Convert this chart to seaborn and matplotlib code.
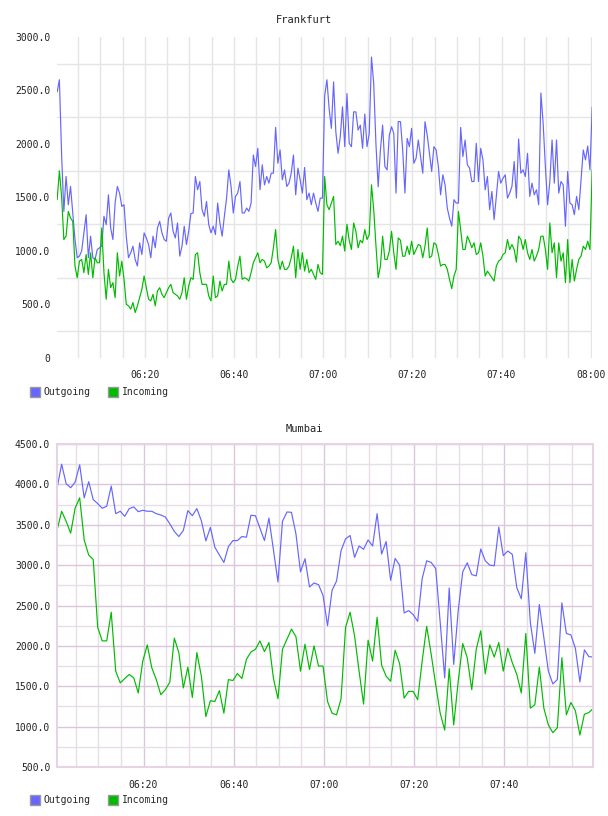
import matplotlib
matplotlib.use("Agg")
import matplotlib.dates as mdates
import matplotlib.pyplot as plt
import matplotlib.ticker as mticker
from matplotlib.patches import Patch
import numpy as np
import pandas as pd
import seaborn as sns

sns.set_style("white")
plt.rcParams["font.family"] = ["DejaVu Sans Mono"]
plt.rcParams["font.size"] = 7

# Frankfurt, one sample every 30 s from 06:00:20
frankfurt_out = [
    2486, 2600, 1900, 1370, 1696, 1432, 1603, 1355, 1107, 937,
    952, 1000, 1169, 1339, 937, 1138, 937, 921, 1014, 1030,
    1045, 1324, 1246, 1525, 1215, 1107, 1448, 1603, 1541, 1417,
    1432, 1138, 937, 983, 1045, 921, 859, 1076, 967, 1169,
    1122, 1060, 937, 1138, 1030, 1215, 1277, 1169, 1107, 1091,
    1308, 1355, 1184, 1122, 1262, 952, 1045, 1231, 1060, 1184,
    1350, 1355, 1696, 1572, 1649, 1386, 1324, 1463, 1246, 1169,
    1231, 1153, 1448, 1262, 1138, 1324, 1494, 1758, 1603, 1355,
    1510, 1541, 1649, 1355, 1355, 1401, 1370, 1448, 1897, 1789,
    1960, 1572, 1805, 1618, 1696, 1634, 1727, 1727, 2155, 1820,
    1944, 1665, 1758, 1603, 1634, 1727, 1897, 1525, 1774, 1665,
    1541, 1780, 1479, 1541, 1432, 1541, 1448, 1370, 1494, 1494,
    2450, 2600, 2331, 2146, 2580, 2115, 1913, 2068, 2347, 1975,
    2471, 2006, 1975, 2300, 2300, 2130, 2176, 1960, 2280, 1975,
    2100, 2812, 2564, 2000, 1600, 1944, 2176, 1789, 1758, 2083,
    2161, 2099, 1541, 2210, 2208, 1944, 1541, 2052, 1975, 2146,
    1820, 1866, 2037, 1882, 1727, 2208, 2083, 1913, 1743, 1975,
    1944, 1789, 1525, 1712, 1618, 1400, 1308, 1231, 1479, 1448,
    1448, 2155, 1882, 2037, 1805, 1774, 1649, 1649, 2006, 1649,
    1960, 1850, 1572, 1696, 1386, 1556, 1293, 1510, 1743, 1634,
    1680, 1712, 1494, 1541, 1603, 1836, 1494, 2046, 1727, 1758,
    1696, 1913, 1510, 1634, 1525, 1572, 1432, 2477, 2192, 1789,
    1432, 1649, 2037, 1634, 2037, 1541, 1649, 1618, 1231, 1743,
    1448, 1432, 1339, 1510, 1386, 1665, 1944, 1851, 1981, 1758,
    2347,
]
frankfurt_in = [
    1479, 1749, 1510, 1107, 1138, 1370, 1308, 1277, 859, 750,
    905, 921, 797, 967, 781, 983, 750, 937, 890, 890,
    1215, 797, 549, 828, 657, 704, 564, 983, 766, 905,
    735, 502, 487, 456, 518, 425, 487, 564, 642, 766,
    657, 549, 533, 595, 487, 626, 657, 595, 564, 611,
    657, 688, 611, 595, 580, 549, 611, 750, 549, 673,
    750, 735, 967, 983, 797, 688, 688, 688, 580, 533,
    766, 564, 580, 719, 626, 688, 688, 905, 735, 704,
    735, 859, 952, 735, 750, 740, 719, 797, 890, 937,
    983, 890, 921, 905, 843, 859, 890, 1030, 1200, 921,
    828, 905, 828, 828, 859, 937, 1045, 750, 1014, 828,
    983, 812, 921, 797, 828, 781, 735, 874, 797, 781,
    1696, 1432, 1386, 1448, 1510, 1060, 1091, 1050, 1138, 999,
    1250, 1100, 1014, 1262, 1184, 1030, 1100, 1076, 1200, 1107,
    1153, 1618, 1386, 1050, 750, 859, 1138, 921, 921, 999,
    1184, 983, 828, 1122, 1100, 950, 952, 1045, 967, 1091,
    967, 1014, 1060, 1050, 937, 1045, 1215, 937, 952, 1076,
    1060, 967, 859, 874, 874, 828, 735, 648, 766, 828,
    1370, 1200, 1014, 1014, 1138, 1091, 1030, 1076, 967, 983,
    1076, 952, 766, 812, 781, 750, 719, 859, 905, 921,
    967, 983, 1107, 1014, 1060, 1014, 896, 1138, 1107, 1014,
    1107, 983, 921, 1014, 905, 952, 1014, 1138, 1138, 1014,
    828, 1262, 983, 1076, 750, 1076, 905, 983, 704, 1107,
    704, 921, 719, 828, 921, 952, 1045, 1014, 1091, 1014,
    1758,
]

# Mumbai, one sample per minute from 06:00:50
mumbai_out = [
    3958, 4250, 4008, 3958, 4029, 4242, 3833, 4033, 3812, 3762,
    3704, 3729, 3979, 3637, 3667, 3604, 3700, 3721, 3662, 3679,
    3667, 3667, 3637, 3621, 3596, 3512, 3417, 3354, 3429, 3675,
    3612, 3700, 3550, 3300, 3467, 3221, 3125, 3033, 3229, 3304,
    3304, 3354, 3346, 3617, 3612, 3458, 3304, 3583, 3187, 2792,
    3542, 3658, 3654, 3383, 2917, 3079, 2729, 2779, 2758, 2625,
    2250, 2687, 2804, 3179, 3325, 3367, 3096, 3237, 3196, 3312,
    3237, 3637, 3137, 3292, 2812, 3083, 3000, 2408, 2437, 2387,
    2304, 2833, 3054, 3033, 2958, 2292, 1604, 2717, 1771, 2437,
    2917, 3029, 2883, 2867, 3200, 3054, 3000, 2992, 3471, 3117,
    3175, 3133, 2721, 2583, 3154, 2292, 1908, 2512, 2104, 1687,
    1529, 1583, 2533, 2154, 2137, 1971, 1554, 1950, 1867, 1862,
]
mumbai_in = [
    3437, 3667, 3542, 3396, 3708, 3833, 3312, 3125, 3071, 2229,
    2062, 2062, 2417, 1687, 1542, 1596, 1646, 1604, 1417, 1812,
    2012, 1729, 1583, 1396, 1458, 1550, 2096, 1917, 1479, 1737,
    1362, 1917, 1625, 1125, 1321, 1312, 1446, 1167, 1583, 1571,
    1658, 1596, 1833, 1925, 1958, 2062, 1929, 2042, 1596, 1346,
    1958, 2083, 2208, 2112, 1687, 2021, 1708, 2000, 1750, 1750,
    1312, 1167, 1146, 1346, 2229, 2417, 2125, 1687, 1279, 2071,
    1812, 2354, 1762, 1625, 1562, 1946, 1779, 1354, 1437, 1437,
    1333, 1812, 2242, 1896, 1521, 1167, 958, 1717, 1021, 1562,
    2029, 1854, 1458, 1958, 2187, 1654, 2012, 1862, 2042, 1687,
    1971, 1792, 1646, 1417, 2154, 1229, 1271, 1737, 1229, 1021,
    925, 987, 1854, 1146, 1300, 1196, 896, 1154, 1175, 1229,
]

BLUE = "#6666ff"
GREEN = "#00bb00"

fra = pd.DataFrame({
    "time": pd.date_range("2024-01-01 06:00:20", periods=len(frankfurt_out), freq="30s"),
    "Outgoing": frankfurt_out,
    "Incoming": frankfurt_in,
})
mum = pd.DataFrame({
    "time": pd.date_range("2024-01-01 06:00:50", periods=len(mumbai_out), freq="60s"),
    "Outgoing": mumbai_out,
    "Incoming": mumbai_in,
})


def fmt_val(v, pos):
    return "0" if v == 0 else f"{v:.1f}"


def draw(ax, df):
    sns.lineplot(data=df, x="time", y="Outgoing", color=BLUE, lw=0.85, ax=ax)
    sns.lineplot(data=df, x="time", y="Incoming", color=GREEN, lw=0.85, ax=ax)
    ax.set_xlim(df["time"].iloc[0], df["time"].iloc[-1])
    ax.set_xlabel("")
    ax.set_ylabel("")
    ax.xaxis.set_major_locator(mdates.MinuteLocator(byminute=[0, 20, 40]))
    ax.xaxis.set_minor_locator(mdates.MinuteLocator(byminute=range(0, 60, 5)))
    ax.xaxis.set_major_formatter(mdates.DateFormatter("%H:%M"))
    ax.yaxis.set_major_formatter(mticker.FuncFormatter(fmt_val))
    ax.tick_params(which="both", length=0, labelsize=7, colors="#222222")
    ax.tick_params(axis="x", pad=9)
    ax.tick_params(axis="y", pad=5)
    ax.grid(False)


fig = plt.figure(figsize=(6.08, 8.16), dpi=100)

# Frankfurt
ax1 = fig.add_axes([0.094, 0.5613, 0.880, 0.3934])
draw(ax1, fra)
ax1.set_ylim(0, 3000)
ax1.set_yticks(np.arange(0, 3001, 500))
ax1.set_yticks(np.arange(250, 3000, 500), minor=True)
ax1.yaxis.grid(True, which="minor", color="#e5e5e5", lw=1)
ax1.xaxis.grid(True, which="both", color="#e5e5e5", lw=1)
for s in ax1.spines.values():
    s.set_visible(False)

# Mumbai
ax2 = fig.add_axes([0.094, 0.0600, 0.882, 0.3959])
draw(ax2, mum)
ax2.set_ylim(500, 4500)
ax2.set_yticks(np.arange(500, 4501, 500))
ax2.set_yticks(np.arange(750, 4500, 500), minor=True)
ax2.grid(True, which="major", color="#dcc6dc", lw=1)
ax2.grid(True, which="minor", color="#e6e0e6", lw=1)
for s in ax2.spines.values():
    s.set_color("#e6d4e6")
    s.set_linewidth(1.5)

fig.text(0.5, 0.975, "Frankfurt", ha="center", va="center", fontsize=7.5, color="#222222")
fig.text(0.5, 0.474, "Mumbai", ha="center", va="center", fontsize=7.5, color="#222222")

handles = [
    Patch(facecolor=BLUE, edgecolor="#999999", lw=1),
    Patch(facecolor=GREEN, edgecolor="#999999", lw=1),
]
for y in (0.5196, 0.0196):
    fig.legend(handles, ["Outgoing", "Incoming"], loc="center left",
               bbox_to_anchor=(0.041, y), ncol=2, frameon=False, borderpad=0,
               handlelength=1.05, handleheight=1.3, handletextpad=0.4,
               columnspacing=1.75, fontsize=7)

fig.savefig("out.png", dpi=100)
